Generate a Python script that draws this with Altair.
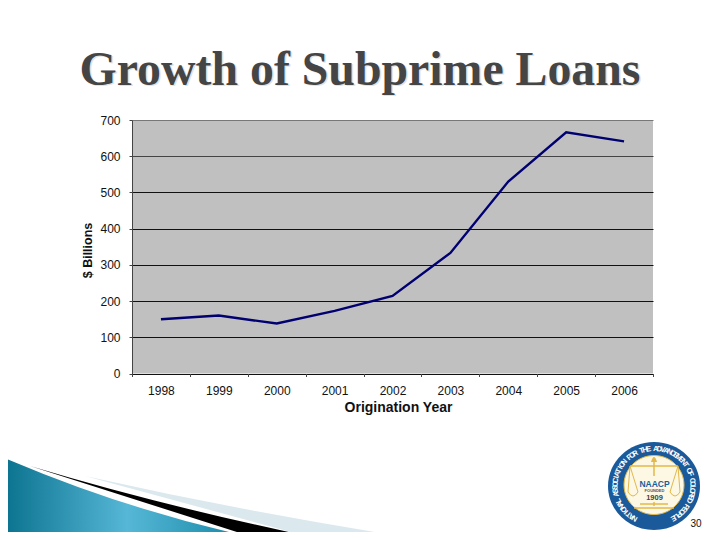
import altair as alt
import pandas as pd

years = ["1998", "1999", "2000", "2001", "2002", "2003", "2004", "2005", "2006"]
billions = [150, 160, 138, 173, 214, 333, 530, 666, 641]
y_ticks = [0, 100, 200, 300, 400, 500, 600, 700]
title_text = "Growth of Subprime Loans"
ring_text = "NATIONAL ASSOCIATION FOR THE ADVANCEMENT OF COLORED PEOPLE"

LEFT, TOP, W, H = 124, 112, 521, 253.5
one = alt.Data(values=[{"a": 1}])
df = pd.DataFrame({"year": years, "value": billions})


def deco(path, fill=None, stroke=None, sw=1.0):
    """Decorative page-coordinate shape drawn as a custom symbol (scale 1)."""
    kw = dict(shape=path, size=4, opacity=1, filled=fill is not None)
    if fill is not None:
        kw["fill"] = fill
    if stroke is not None:
        kw["stroke"] = stroke
        kw["strokeWidth"] = sw
    else:
        kw["strokeWidth"] = 0
    return alt.Chart(one).mark_point(**kw).encode(
        x=alt.value(-LEFT - 8), y=alt.value(-TOP - 8)
    )


def ellipse(cx, cy, rx, ry):
    return (f"M{cx-rx},{cy}A{rx},{ry} 0 1 1 {cx+rx},{cy}"
            f"A{rx},{ry} 0 1 1 {cx-rx},{cy}Z")


def label(text, px, py, size, color="black", weight="normal", font="Liberation Sans",
          align="center", angle=0):
    return alt.Chart(one).mark_text(
        text=text, fontSize=size, color=color, fontWeight=weight, font=font,
        align=align, baseline="alphabetic", angle=angle,
    ).encode(x=alt.value(px - LEFT - 8), y=alt.value(py - TOP - 8))


teal = alt.Gradient(
    gradient="linear", x1=0, x2=1, y1=0, y2=0,
    stops=[
        alt.GradientStop(color="#08708c", offset=0),
        alt.GradientStop(color="#56b7d6", offset=0.48),
        alt.GradientStop(color="#0b7f9e", offset=1),
    ],
)

x = alt.X("year:N", sort=years, title="Origination Year",
          scale=alt.Scale(type="band", paddingInner=0, paddingOuter=0),
          axis=alt.Axis(labelAngle=0, tickBand="extent", domain=False, tickColor="#444",
                        tickSize=3, labelFont="Liberation Sans", labelFontSize=12,
                        labelColor="#111", labelPadding=9, grid=False,
                        titleFont="Liberation Sans", titleFontSize=14, titleFontWeight="bold",
                        titleColor="#111", titlePadding=4, titleX=266))
y = alt.Y("value:Q", title="$ Billions",
          scale=alt.Scale(domain=[0, 700], nice=False),
          axis=alt.Axis(values=y_ticks, domain=True, domainColor="#444", tickColor="#444",
                        tickSize=3, labelFont="Liberation Sans", labelFontSize=12,
                        labelColor="#111", labelPadding=9,
                        grid=True,
                        gridColor={"condition": [
                            {"test": "datum.value === 700", "value": "#777777"},
                            {"test": "datum.value === 600", "value": "#444444"},
                        ], "value": "#111111"},
                        gridWidth=1.2,
                        titleFont="Liberation Sans", titleFontSize=12.5, titleFontWeight="bold",
                        titleColor="#111", titlePadding=5, titleY=130))
line = alt.Chart(df).mark_line(color="#000070", strokeWidth=2.4, clip=False).encode(x=x, y=y)

# Seal ring lettering
ring_df = pd.DataFrame({"ch": list(ring_text), "i": list(range(len(ring_text)))})
n = len(ring_text)
ring = (
    alt.Chart(ring_df)
    .transform_calculate(t=f"(-150 + datum.i * 300 / {n - 1}) * PI / 180")
    .transform_calculate(
        px=f"654 + 38.5 * sin(datum.t) - {LEFT + 8}",
        py=f"486 - 37 * cos(datum.t) - {TOP + 8}",
        rot="datum.t * 180 / PI + 360",
    )
    .mark_text(font="Liberation Sans", fontWeight="bold", fontSize=7.5, color="white",
               baseline="middle", align="center")
    .encode(x=alt.X("px:Q", scale=None, axis=None),
            y=alt.Y("py:Q", scale=None, axis=None),
            text="ch:N",
            angle=alt.Angle("rot:Q", scale=None))
)

gold = "#e2b84a"
layers = [
    # Swoosh
    deco("M85,476 Q250,513 425,540 L320,540 Z", fill="#dbe9ef"),
    deco("M30,466 Q170,508 327,540 L262,540 Z", fill="#000000"),
    deco("M0,456 Q130,512 265,540 L0,540 Z", fill=teal),
    # Title
    label(title_text, 361.5, 86, 47.8, color="#e2e2e2", weight="bold", font="Liberation Serif"),
    label(title_text, 360, 85, 47.8, color="#454545", weight="bold", font="Liberation Serif"),
    # Chart
    line,
    # Seal
    deco(ellipse(654, 486, 46, 44), fill="#1a5a9a"),
    deco(ellipse(654, 485, 30, 29.5), fill="#fdf8e4", stroke=gold, sw=1),
    ring,
    deco("M654,459 L654,506 M630,466 L678,466 M634,508 L674,508 M640,504 L668,504",
         stroke=gold, sw=1.5),
    deco("M651,462 Q654,452 657,462 Z", fill=gold),
    deco("M630,466 L628,492 M630,466 L638,492 M678,466 L670,492 M678,466 L680,492 "
         "M628,492 Q633,500 638,492 M670,492 Q675,500 680,492", stroke=gold, sw=1),
    deco("M640,476 L668,476 L668,502 L640,502 Z", fill="#fdf8e4"),
    label("NAACP", 654.5, 487, 8.5, color="#17609e", weight="bold"),
    label("FOUNDED", 654.5, 492, 4, color="#555555", weight="bold"),
    label("1909", 654.5, 500, 7.5, color="#444444", weight="bold"),
    label("30", 696, 527, 10, color="#111111"),
]

chart = (
    alt.layer(*layers)
    .properties(
        width=W, height=H, background="white",
        autosize=alt.AutoSizeParams(type="none"),
        padding={"left": LEFT, "top": TOP, "right": 59, "bottom": 158},
    )
    .configure_view(fill="#c0c0c0", stroke=None)
)

chart.save("out.html", embed_options={"renderer": "svg", "actions": False})
